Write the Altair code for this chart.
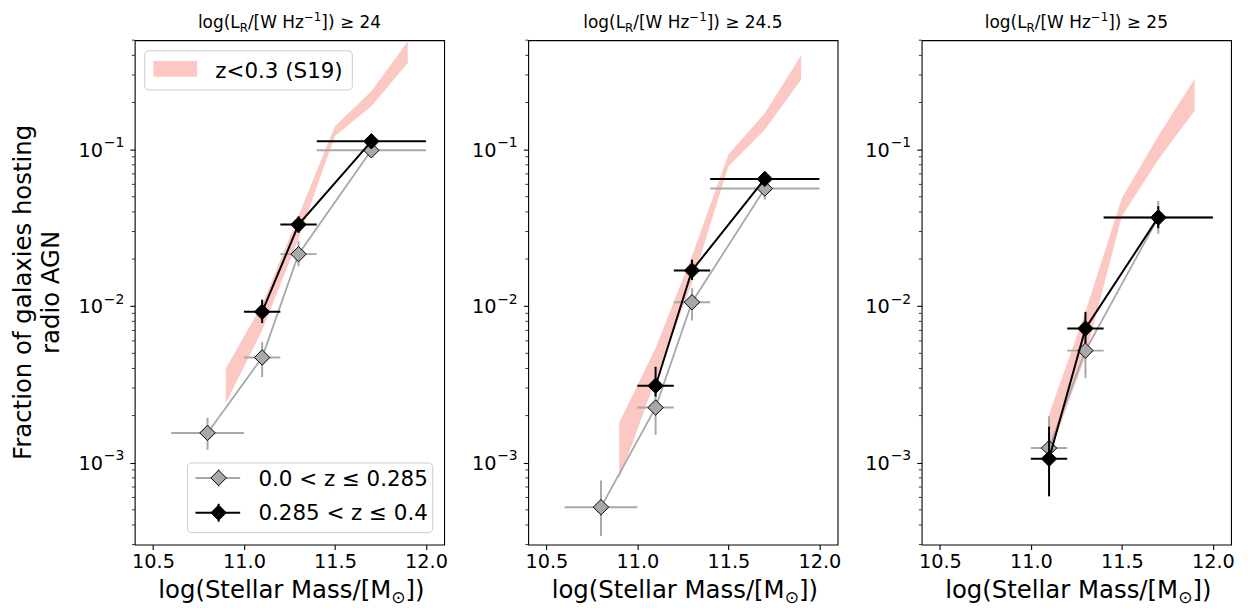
import altair as alt
import pandas as pd

FONT = "DejaVu Sans"

# ---------------- data ----------------
lum_limits = ["24", "24.5", "25"]

# S19 (z<0.3) band
band_mass = [
    [10.9, 11.1, 11.3, 11.5, 11.7, 11.9],
    [10.9, 11.1, 11.3, 11.5, 11.7, 11.9],
    [11.1, 11.3, 11.5, 11.7, 11.9],
]
band_lo = [
    [2.4e-3, 7.0e-3, 0.027, 0.122, 0.189, 0.358],
    [7.8e-4, 3.4e-3, 0.014, 0.078, 0.134, 0.28],
    [1.1e-3, 4.8e-3, 0.0375, 0.086, 0.177],
]
band_hi = [
    [4.0e-3, 0.0102, 0.038, 0.141, 0.236, 0.49],
    [1.8e-3, 5.4e-3, 0.021, 0.093, 0.171, 0.40],
    [2.04e-3, 9.2e-3, 0.049, 0.122, 0.283],
]

# 0.0 < z <= 0.285 sample
lowz_mass = [[10.8, 11.1, 11.3, 11.7], [10.8, 11.1, 11.3, 11.7], [11.1, 11.3, 11.7]]
lowz_mlo = [[10.6, 11.0, 11.2, 11.4], [10.6, 11.0, 11.2, 11.4], [11.0, 11.2, 11.4]]
lowz_mhi = [[11.0, 11.2, 11.4, 12.0], [11.0, 11.2, 11.4, 12.0], [11.2, 11.4, 12.0]]
lowz_frac = [[1.55e-3, 4.7e-3, 0.0215, 0.099], [5.2e-4, 2.25e-3, 0.0106, 0.0564], [1.24e-3, 5.2e-3, 0.0368]]
lowz_flo = [[1.21e-3, 3.53e-3, 0.018, 0.094], [3.4e-4, 1.51e-3, 0.0081, 0.048], [9.0e-4, 3.47e-3, 0.029]]
lowz_fhi = [[1.94e-3, 5.9e-3, 0.026, 0.105], [7.7e-4, 2.92e-3, 0.013, 0.062], [1.98e-3, 6.7e-3, 0.047]]

# 0.285 < z <= 0.4 sample
hiz_mass = [[11.1, 11.3, 11.7], [11.1, 11.3, 11.7], [11.1, 11.3, 11.7]]
hiz_mlo = [[11.0, 11.2, 11.4], [11.0, 11.2, 11.4], [11.0, 11.2, 11.4]]
hiz_mhi = [[11.2, 11.4, 12.0], [11.2, 11.4, 12.0], [11.2, 11.4, 12.0]]
hiz_frac = [[0.0092, 0.0332, 0.113], [3.1e-3, 0.0169, 0.065], [1.06e-3, 7.2e-3, 0.0369]]
hiz_flo = [[0.0078, 0.0294, 0.106], [2.65e-3, 0.0147, 0.060], [6.1e-4, 5.8e-3, 0.0315]]
hiz_fhi = [[0.011, 0.0375, 0.121], [4.1e-3, 0.0198, 0.071], [1.7e-3, 9.2e-3, 0.0435]]

x_ticks = [10.5, 11.0, 11.5, 12.0]
y_ticks = [1e-3, 1e-2, 1e-1]
y_tick_exp = ["−3", "−2", "−1"]
y_minor = [3e-4, 4e-4, 5e-4, 6e-4, 7e-4, 8e-4, 9e-4,
           2e-3, 3e-3, 4e-3, 5e-3, 6e-3, 7e-3, 8e-3, 9e-3,
           2e-2, 3e-2, 4e-2, 5e-2, 6e-2, 7e-2, 8e-2, 9e-2,
           0.2, 0.3, 0.4, 0.5]

legend_band = "z<0.3 (S19)"
legend_lowz = "0.0 < z ≤ 0.285"
legend_hiz = "0.285 < z ≤ 0.4"

# ---------------- style ----------------
W, H = 311, 507
GRAY = "#a8a8a8"
PINK = "#fcc8c3"
TICK_FS = 19.4
SUP_FS = 14
LAB_FS = 24.5
TITLE_FS = 17
LEG_FS = 21.5

XSCALE = alt.Scale(domain=[10.4, 12.1], nice=False, zero=False)
YSCALE = alt.Scale(type="log", domain=[3e-4, 0.5], nice=False)
XAXIS = alt.Axis(values=x_ticks, format=".1f", title=None, grid=False, domain=False,
                 tickSize=4.9, tickWidth=1.1, tickColor="black", labelColor="black",
                 labelFont=FONT, labelFontSize=TICK_FS, labelPadding=3.5, labelFlush=False)
YAXIS = alt.Axis(values=y_ticks, title=None, grid=False, domain=False, labels=False,
                 tickSize=4.9, tickWidth=1.1, tickColor="black")

ONE = pd.DataFrame({"k": [0]})

CW = {' ': 651, '(': 799, ')': 799, '.': 651, '/': 690, '[': 799, ']': 799, '≥': 1716,
      '−': 1716, 'L': 1141, 'R': 1423, 'W': 2025, 'H': 1540, 'M': 1767, 'S': 1300,
      'a': 1255, 'e': 1260, 'g': 1300, 'l': 569, 'o': 1253, 'r': 842, 's': 1067,
      't': 803, 'z': 1075, '⊙': 1716}


def tw(s, fs):
    return sum(CW.get(c, 1303) for c in s) / 2048.0 * fs


def X(f):
    return alt.X(f, type="quantitative", scale=XSCALE, axis=XAXIS)


def Y(f):
    return alt.Y(f, type="quantitative", scale=YSCALE, axis=YAXIS)


def vtext(txt, x, y, fs, align="left", angle=None):
    kw = dict(text=txt, font=FONT, fontSize=fs, align=align, baseline="alphabetic", color="black")
    if angle is not None:
        kw["angle"] = angle
    return alt.Chart(ONE).mark_text(**kw).encode(x=alt.value(x), y=alt.value(y))


def rich(segs, cx, y):
    total = sum(tw(t, fs) for t, fs, dy in segs)
    x = cx - total / 2.0
    out = []
    for t, fs, dy in segs:
        out.append(vtext(t, x, y + dy, fs))
        x += tw(t, fs)
    return out


def series(mass, mlo, mhi, frac, flo, fhi, color, fill, lw):
    df = pd.DataFrame({"m": mass, "mlo": mlo, "mhi": mhi, "f": frac, "flo": flo, "fhi": fhi})
    base = alt.Chart(df)
    return [
        base.mark_line(color=color, strokeWidth=lw).encode(x=X("m"), y=Y("f")),
        base.mark_rule(color=color, strokeWidth=2).encode(x=X("mlo"), x2="mhi", y=Y("f")),
        base.mark_rule(color=color, strokeWidth=2).encode(x=X("m"), y=Y("flo"), y2="fhi"),
        base.mark_point(shape="diamond", filled=True, color=fill, stroke="black",
                        strokeWidth=1, size=240, opacity=1).encode(x=X("m"), y=Y("f")),
    ]


def rect(x1, x2, y1, y2, **kw):
    return alt.Chart(ONE).mark_rect(**kw).encode(
        x=alt.value(x1), x2=alt.value(x2), y=alt.value(y1), y2=alt.value(y2))


def rule(x1, x2, y1, y2, color, sw):
    return alt.Chart(ONE).mark_rule(color=color, strokeWidth=sw).encode(
        x=alt.value(x1), x2=alt.value(x2), y=alt.value(y1), y2=alt.value(y2))


def dpoint(x, y, fill):
    return alt.Chart(ONE).mark_point(shape="diamond", filled=True, color=fill, stroke="black",
                                     strokeWidth=1, size=240, opacity=1).encode(
        x=alt.value(x), y=alt.value(y))


def make_panel(i):
    layers = []
    bdf = pd.DataFrame({"m": band_mass[i], "lo": band_lo[i], "hi": band_hi[i]})
    layers.append(alt.Chart(bdf).mark_area(color=PINK, opacity=1, clip=True).encode(
        x=X("m"), y=Y("lo"), y2="hi"))
    layers += series(lowz_mass[i], lowz_mlo[i], lowz_mhi[i], lowz_frac[i], lowz_flo[i], lowz_fhi[i],
                     GRAY, GRAY, 1.8)
    layers += series(hiz_mass[i], hiz_mlo[i], hiz_mhi[i], hiz_frac[i], hiz_flo[i], hiz_fhi[i],
                     "black", "black", 2)
    # minor ticks on the log axis
    mdf = pd.DataFrame({"v": y_minor})
    layers.append(alt.Chart(mdf).mark_rule(color="black", strokeWidth=0.8).encode(
        y=Y("v"), x=alt.value(0), x2=alt.value(-2.8)))
    # y tick labels as 10^{-n}
    ldf = pd.DataFrame({"v": y_ticks, "e": y_tick_exp})
    sup_w = tw("−1", SUP_FS)
    layers.append(alt.Chart(ldf).mark_text(text="10", font=FONT, fontSize=TICK_FS, align="right",
                                           baseline="alphabetic", dy=7, color="black").encode(
        y=Y("v"), x=alt.value(-10.5 - sup_w - 0.8)))
    layers.append(alt.Chart(ldf).mark_text(font=FONT, fontSize=SUP_FS, align="left",
                                           baseline="alphabetic", dy=-2.5, color="black").encode(
        y=Y("v"), x=alt.value(-10.5 - sup_w), text="e:N"))

    # title
    fs = TITLE_FS
    segs = [("log(L", fs, 0), ("R", fs * 0.7, fs * 0.22), ("/[W Hz", fs, 0),
            ("−1", fs * 0.7, -fs * 0.42), ("]) ≥ " + lum_limits[i], fs, 0)]
    layers += rich(segs, W / 2.0, -12)

    # x label
    segs = [("log(Stellar Mass/[M", LAB_FS, 0), ("⊙", LAB_FS * 0.7, LAB_FS * 0.2), ("])", LAB_FS, 0)]
    layers += rich(segs, W / 2.0 + 2, 561)

    if i == 0:
        layers.append(vtext("Fraction of galaxies hosting", -104, 253.5, LAB_FS, align="center", angle=270))
        layers.append(vtext("radio AGN", -76, 253.5, LAB_FS, align="center", angle=270))
        # upper legend
        layers.append(rect(10, 218.7, 10.7, 50, fill="white", fillOpacity=0.8,
                           stroke="#cccccc", strokeWidth=1, cornerRadius=4))
        layers.append(rect(18.7, 62.7, 21, 36.7, fill=PINK))
        layers.append(vtext(legend_band, 81, 38.3, LEG_FS))
        # lower legend
        layers.append(rect(53, 299.5, 425, 495, fill="white", fillOpacity=0.8,
                           stroke="#cccccc", strokeWidth=1, cornerRadius=4))
        for (yy, col, lab) in [(440, GRAY, legend_lowz), (475, "black", legend_hiz)]:
            layers.append(rule(61, 106, yy, yy, col, 2))
            layers.append(rule(84.3, 84.3, yy - 9, yy + 9, col, 2))
            layers.append(dpoint(84.3, yy, col))
            layers.append(vtext(lab, 124.3, yy + 7.8, LEG_FS))

    return alt.layer(*layers).properties(width=W, height=H)


chart = alt.hconcat(make_panel(0), make_panel(1), make_panel(2), spacing=84.5, bounds="flush").properties(
    padding={"left": 2.4, "top": 0.8, "right": 5, "bottom": 0}
).configure(background="white").configure_view(stroke="black", strokeWidth=1.1)

chart.save("out.html", embed_options={"renderer": "svg", "actions": False})
